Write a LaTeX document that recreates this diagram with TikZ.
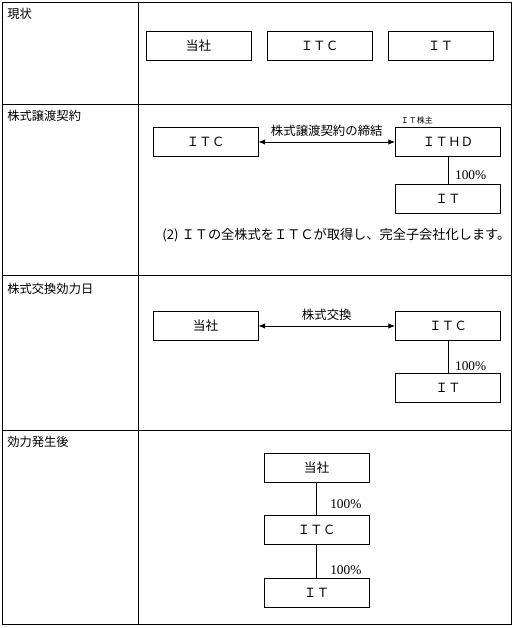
\documentclass[tikz,border=0pt]{standalone}
\usepackage{fontspec}
\setmainfont{Liberation Serif}
\newfontfamily\jp{Noto Sans CJK JP}
\usetikzlibrary{arrows.meta}

\tikzset{
  firma/.style={draw, minimum width=78.75pt, minimum height=21.75pt,
                inner sep=0pt, font=\jp\fontsize{9.5}{11}\selectfont},
  radek/.style={anchor=west, inner sep=0pt, font=\jp\fontsize{9.2}{11}\selectfont},
  popis/.style={inner sep=0pt, font=\jp\fontsize{9.3}{11}\selectfont},
  podil/.style={anchor=west, inner sep=0pt, font=\fontsize{10}{11}\selectfont},
}

\begin{document}
\begin{tikzpicture}[x=0.75pt, y=-0.75pt, >={Latex[length=5pt,width=4pt]}, line width=0.65pt]
\useasboundingbox (0,0) rectangle (512,628);

% tabulka
\draw (2,2) rectangle (511,624);
\draw (138,2) -- (138,624);
\foreach \y in {104,275,430} \draw (2,\y) -- (511,\y);

% popisky radku
\node[radek] (r1) at (7,14) {現状};
\node[radek] (r2) at (7,116) {株式譲渡契約};
\node[radek] (r3) at (7,289) {株式交換効力日};
\node[radek] (r4) at (7,442) {効力発生後};

% soucasny stav
\node[firma] (tosha1) at (198.5,46) {当社};
\node[firma] (itc1) at (319.5,46) {ＩＴＣ};
\node[firma] (it1) at (440.5,46) {ＩＴ};

% prevod akcii
\node[firma] (itc2) at (205.5,142) {ＩＴＣ};
\node[firma] (ithd2) at (448,142) {ＩＴＨＤ};
\node[firma] (it2) at (448,198.5) {ＩＴ};
\node[popis, anchor=south west, font=\jp\fontsize{6}{7}\selectfont] (akc2)
      at ([xshift=4pt, yshift=2pt]ithd2.north west) {ＩＴ株主};
\draw[<->] (itc2) -- node[popis, above=4pt] {株式譲渡契約の締結} (ithd2);
\draw (ithd2) -- node[podil, pos=0.68, xshift=5pt] {100\%} (it2);
\node[popis, anchor=west, font=\jp\fontsize{9.9}{11}\selectfont] (veta2) at (162,235)
      {(2) ＩＴの全株式をＩＴＣが取得し、完全子会社化します。};

% vymena akcii
\node[firma] (tosha3) at (205.5,326) {当社};
\node[firma] (itc3) at (448,326) {ＩＴＣ};
\node[firma] (it3) at (448,387.5) {ＩＴ};
\draw[<->] (tosha3) -- node[popis, above=4pt] {株式交換} (itc3);
\draw (itc3) -- node[podil, pos=0.8, xshift=5pt] {100\%} (it3);

% po nabyti ucinnosti
\node[firma] (tosha4) at (316.5,467.5) {当社};
\node[firma] (itc4) at (316.5,530) {ＩＴＣ};
\node[firma] (it4) at (316.5,592.5) {ＩＴ};
\draw (tosha4) -- node[podil, pos=0.68, xshift=10pt] {100\%} (itc4);
\draw (itc4) -- node[podil, pos=0.76, xshift=10pt] {100\%} (it4);

\end{tikzpicture}
\end{document}
